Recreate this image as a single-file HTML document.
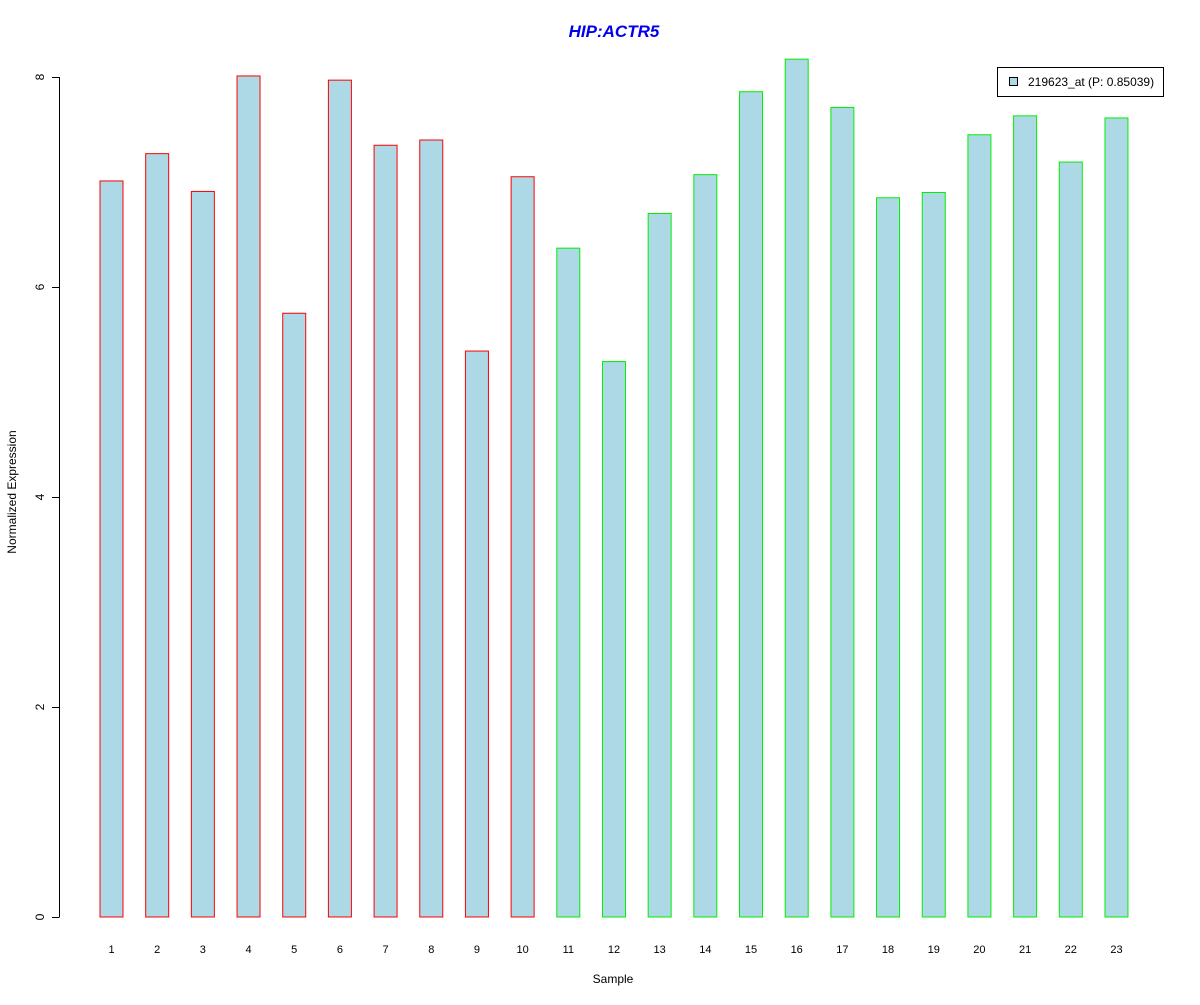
<!DOCTYPE html>
<html><head><meta charset="utf-8"><style>
body{margin:0;background:#fff;}
svg text{font-family:"Liberation Sans",Arial,sans-serif;}
</style></head><body>
<svg id="chart" width="1200" height="1000" xmlns="http://www.w3.org/2000/svg">
<rect width="1200" height="1000" fill="#fff"/>
<text x="614" y="37" text-anchor="middle" font-size="17" font-weight="bold" font-style="italic" fill="#0000ee">HIP:ACTR5</text>
<text transform="translate(16,492) rotate(-90)" text-anchor="middle" font-size="12">Normalized Expression</text>
<text x="613" y="983" text-anchor="middle" font-size="12">Sample</text>
<g id="yaxis"></g>
<g id="bars"></g>
<g id="xlabels"></g>
<g>
<rect x="997.5" y="67.5" width="166" height="29" fill="#fff" stroke="#000"/>
<rect x="1009.5" y="77.5" width="8" height="8" fill="#add8e6" stroke="#000"/>
<text x="1028" y="86" font-size="12">219623_at (P: 0.85039)</text>
</g>
</svg>
<script>
const categories=["1","2","3","4","5","6","7","8","9","10","11","12","13","14","15","16","17","18","19","20","21","22","23"];
const values=[7.01,7.27,6.91,8.01,5.75,7.97,7.35,7.40,5.39,7.05,6.37,5.29,6.70,7.07,7.86,8.17,7.71,6.85,6.90,7.45,7.63,7.19,7.61];
const groups=["red","red","red","red","red","red","red","red","red","red","green","green","green","green","green","green","green","green","green","green","green","green","green"];
const yTicks=[0,2,4,6,8];
const NS="http://www.w3.org/2000/svg";
function y(v){return 917-v*105;}
function xc(i){return 111.5+i*45.68;}
function mk(t,a,p){const e=document.createElementNS(NS,t);for(const k in a)e.setAttribute(k,a[k]);p.appendChild(e);return e;}
const ya=document.getElementById('yaxis');
const al=mk('line',{x1:59.5,x2:59.5,y1:y(8),y2:y(0),stroke:'#000'},ya);


yTicks.forEach(t=>{
 const l=mk('line',{x1:52,x2:59.5,y1:y(t)+0.5,y2:y(t)+0.5,stroke:'#000'},ya);
 
 
 const tx=mk('text',{transform:`translate(44,${y(t)}) rotate(-90)`,'text-anchor':'middle','font-size':12},ya);
 tx.textContent=t;
 
 
});
const bg=document.getElementById('bars'),xg=document.getElementById('xlabels');
values.forEach((v,i)=>{
 const r=mk('rect',{x:xc(i)-11.5,y:y(v),width:23,height:v*105,fill:'#add8e6',stroke:groups[i]==='red'?'#ff0000':'#00ee00'},bg);
 
 
 const t=mk('text',{x:xc(i),y:953,'text-anchor':'middle','font-size':11},xg);
 t.textContent=categories[i];
 
 
});
</script>
</body></html>
